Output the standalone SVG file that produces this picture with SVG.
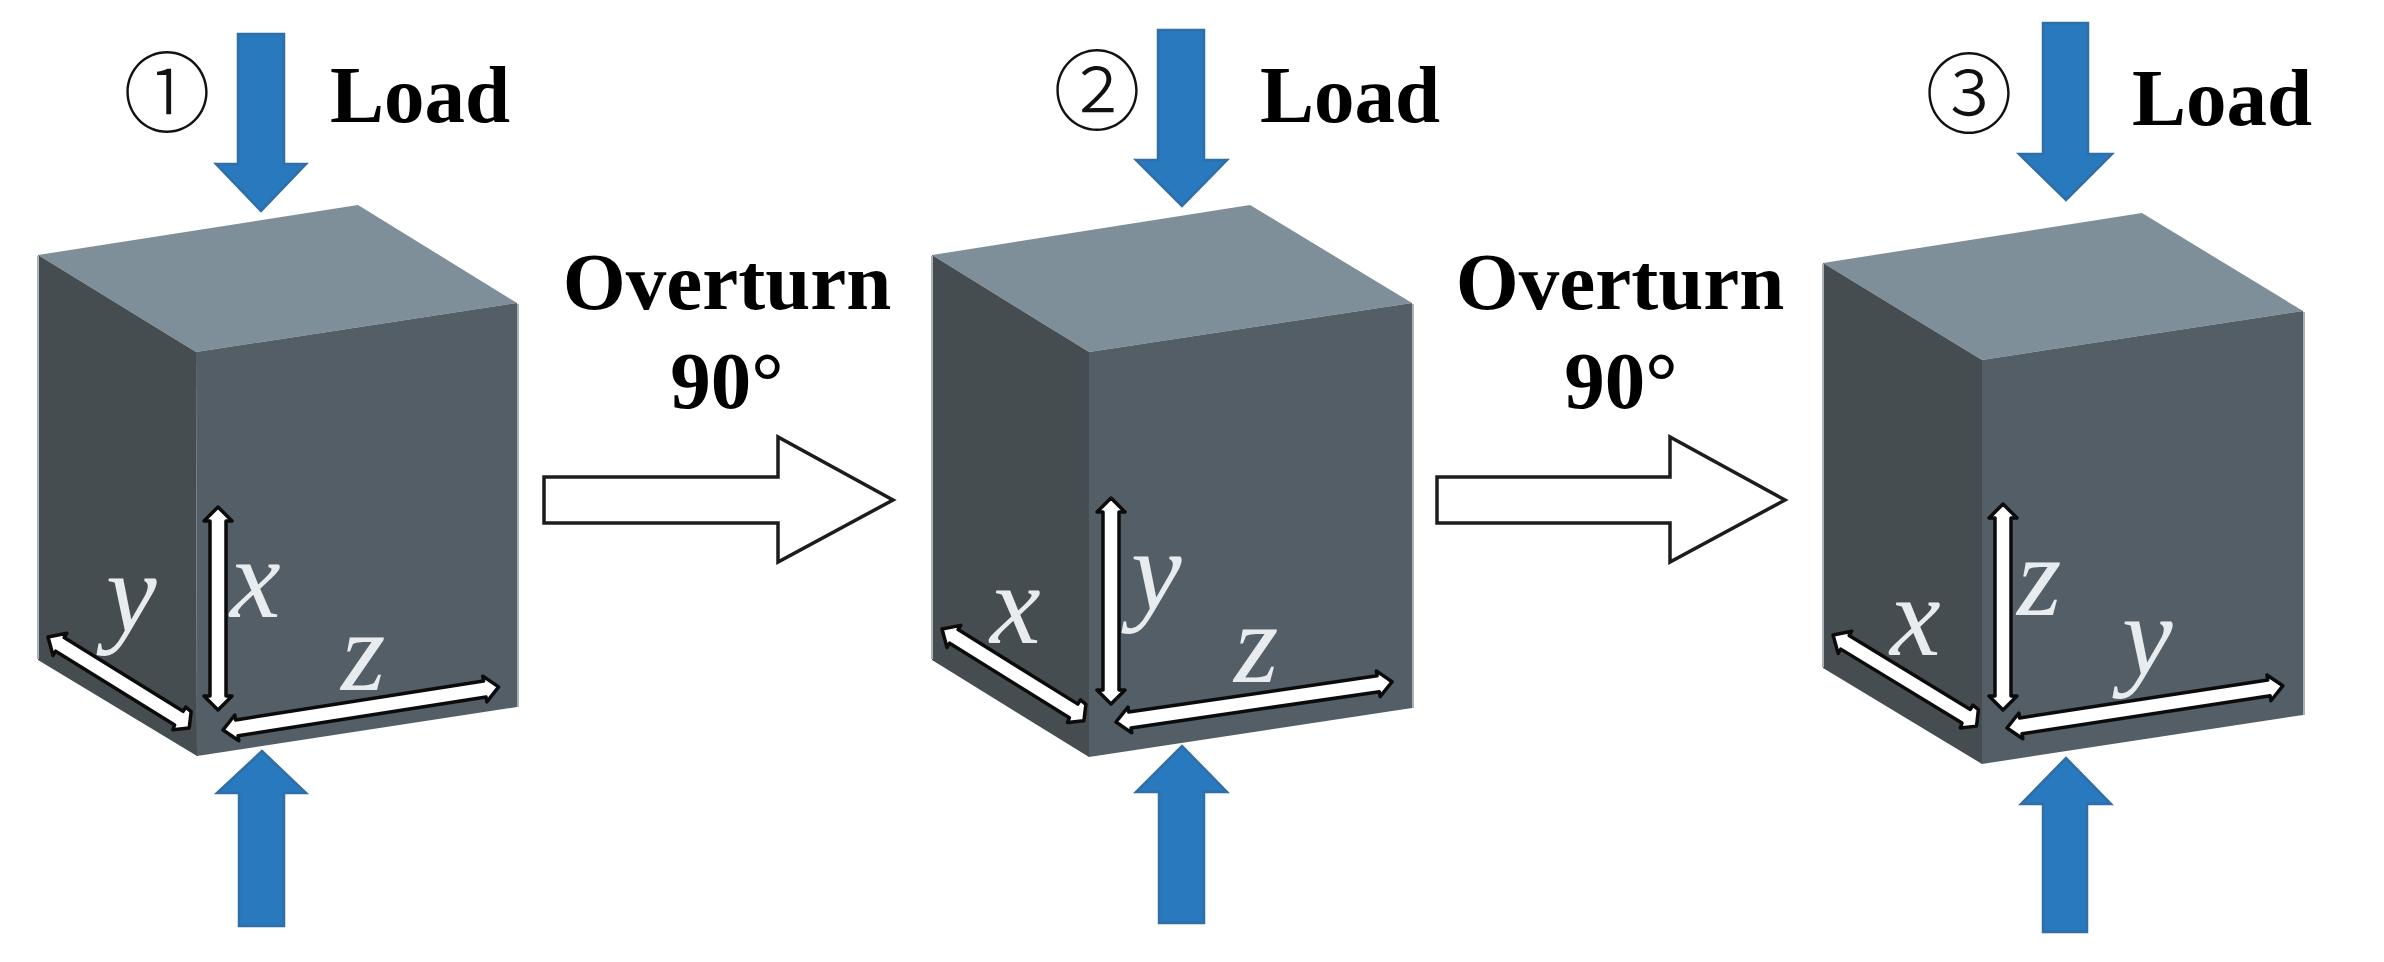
<svg xmlns="http://www.w3.org/2000/svg" width="2384" height="962" viewBox="0 0 2384 962">
<style>
.top{fill:#7f8f99}
.left{fill:#464d51}
.right{fill:#535e67}
.edge{stroke:#aab2b8;stroke-width:2;fill:none}
.load{fill:#2879be;stroke:#2f6ea6;stroke-width:2.5;stroke-linejoin:miter}
.axis{fill:#fff;stroke:#0b0b0b;stroke-width:3.5;stroke-linejoin:round}
.ax{font-family:"Liberation Serif",serif;font-style:italic;font-size:114px;fill:#e9ecee}
.lab{font-family:"Liberation Serif",serif;font-weight:bold;font-size:81px;fill:#000}
.mid{text-anchor:middle}
.num{font-family:"Noto Sans CJK JP","DejaVu Sans",sans-serif;font-weight:300;font-size:88px;fill:#111;text-anchor:middle}
.turn{fill:#fff;stroke:#1c1c1c;stroke-width:3.5;stroke-linejoin:miter}
</style>
<rect width="2384" height="962" fill="#fff"/>
<g id="connectors">
<polygon class="turn" points="544,477 778,477 778,437 893,500 778,562 778,523 544,523"/>
<polygon class="turn" points="1437,477 1670,477 1670,437 1785,500 1670,562 1670,523 1437,523"/>
</g>
<g id="labels-overturn">
<text class="lab mid" x="727" y="309">Overturn</text>
<text class="lab mid" x="727" y="408">90°</text>
<text class="lab mid" x="1620" y="309">Overturn</text>
<text class="lab mid" x="1621" y="408">90°</text>
</g>
<g id="cube-1">
<polygon class="top" points="38,255 358,205 517,303 196,352"/>
<polygon class="left" points="38,255 196,352 197,756 38,660"/>
<polygon class="right" points="196,352 517,303 517,707 197,756"/>
<path class="edge" d="M38,256V659M518,304V707"/>
<polygon class="axis" transform="translate(218,507) rotate(90)" points="0,0 14,-14 14,-8 189,-8 189,-14 203,0 189,14 189,8 14,8 14,14"/>
<polygon class="axis" transform="translate(48,637) rotate(31.8)" points="0,0 14,-13 14,-8 154,-8 154,-13 161,-12 168,3 155,13 154,8 14,8 14,13"/>
<polygon class="axis" transform="translate(223,730) rotate(-8.9)" points="0,0 14,-13 14,-8 265,-8 265,-13 279,0 265,13 265,8 14,8 14,13"/>
<text class="ax" x="230" y="617">x</text>
<text class="ax" x="106" y="632">y</text>
<text class="ax" x="341" y="690">z</text>
<polygon class="load" points="238,34 284,34 284,164 306,164 261,211 216,164 238,164"/>
<polygon class="load" points="239,926 284,926 284,793 306,793 262,751 217,793 239,793"/>
<text class="num" x="167" y="125">①</text>
<text class="lab" x="330" y="122">Load</text>
</g>
<g id="cube-2">
<polygon class="top" points="932,255 1250,205 1412,303 1089,352"/>
<polygon class="left" points="932,255 1089,352 1089,757 932,660"/>
<polygon class="right" points="1089,352 1412,303 1412,708 1089,757"/>
<path class="edge" d="M932,256V659M1413,304V708"/>
<polygon class="axis" transform="translate(1111,498) rotate(90)" points="0,0 14,-14 14,-8 192,-8 192,-14 206,0 192,14 192,8 14,8 14,14"/>
<polygon class="axis" transform="translate(942,629) rotate(31.9)" points="0,0 14,-13 14,-8 155,-8 155,-13 162,-12 169,3 156,13 155,8 14,8 14,13"/>
<polygon class="axis" transform="translate(1116,722) rotate(-8.3)" points="0,0 14,-13 14,-8 265,-8 265,-13 279,0 265,13 265,8 14,8 14,13"/>
<text class="ax" x="990" y="643">x</text>
<text class="ax" x="1131" y="610">y</text>
<text class="ax" x="1234" y="682">z</text>
<polygon class="load" points="1158,30 1204,30 1204,160 1227,160 1182,206 1136,160 1158,160"/>
<polygon class="load" points="1159,923 1204,923 1204,792 1227,792 1182,746 1136,792 1159,792"/>
<text class="num" x="1097" y="123">②</text>
<text class="lab" x="1260" y="122">Load</text>
</g>
<g id="cube-3">
<polygon class="top" points="1823,263 2142,213 2303,311 1982,360"/>
<polygon class="left" points="1823,263 1982,360 1982,764 1823,668"/>
<polygon class="right" points="1982,360 2303,311 2303,715 1982,764"/>
<path class="edge" d="M1823,264V667M2304,312V715"/>
<polygon class="axis" transform="translate(2003,504) rotate(90)" points="0,0 14,-14 14,-8 192,-8 192,-14 206,0 192,14 192,8 14,8 14,14"/>
<polygon class="axis" transform="translate(1833,635) rotate(31.4)" points="0,0 14,-13 14,-8 156,-8 156,-13 163,-12 170,3 157,13 156,8 14,8 14,13"/>
<polygon class="axis" transform="translate(2007,728) rotate(-8.7)" points="0,0 14,-13 14,-8 265,-8 265,-13 279,0 265,13 265,8 14,8 14,13"/>
<text class="ax" x="1890" y="655">x</text>
<text class="ax" x="2122" y="675">y</text>
<text class="ax" x="2017" y="615">z</text>
<polygon class="load" points="2043,23 2088,23 2088,154 2112,154 2066,200 2019,154 2043,154"/>
<polygon class="load" points="2043,932 2087,932 2087,804 2111,804 2066,758 2021,804 2043,804"/>
<text class="num" x="1969" y="126">③</text>
<text class="lab" x="2132" y="125">Load</text>
</g>
</svg>
